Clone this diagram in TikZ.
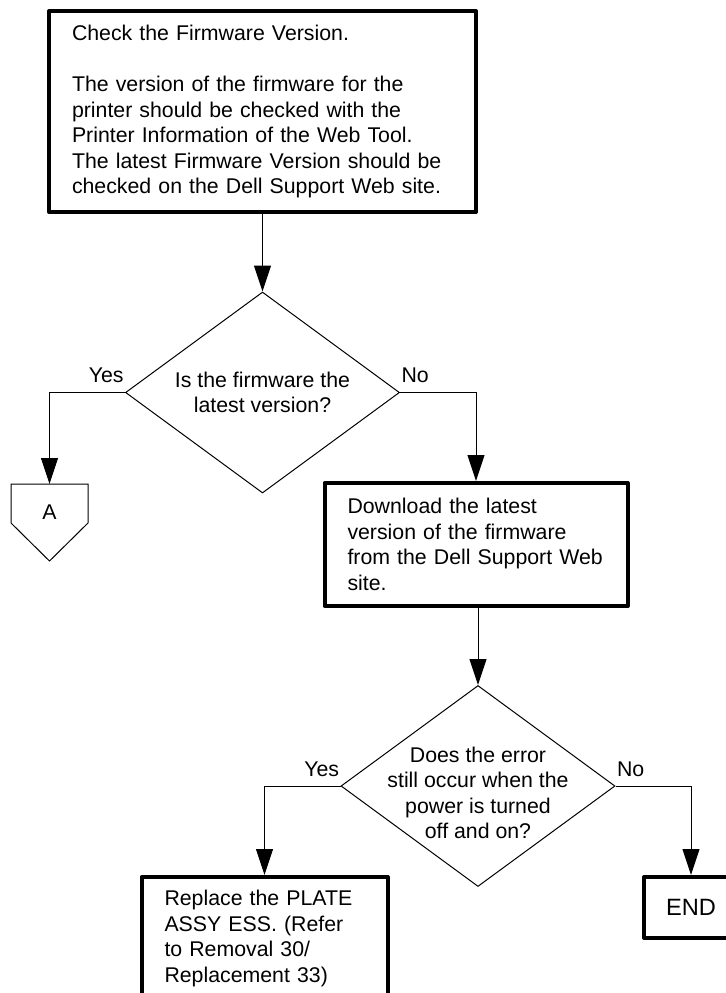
\documentclass[tikz,border=0pt]{standalone}
\usepackage{fontspec}
\setmainfont{Liberation Sans}
\usepackage{tikz}
\usetikzlibrary{arrows.meta, positioning, shapes.geometric, calc}

\begin{document}
\begin{tikzpicture}[x=0.5pt, y=-0.5pt,
  font=\fontsize{10.65pt}{12.75pt}\selectfont,
  procbox/.style={draw, line width=2pt, line join=round, align=left,
    inner xsep=11.5pt, inner ysep=0pt},
  decision/.style={draw, diamond, line width=0.5pt, align=center, aspect=1.363,
    inner sep=-10pt, minimum width=137pt, minimum height=100.5pt},
  flow/.style={line width=0.5pt, -{Triangle[length=13pt, width=8.5pt]}},
  answer/.style={inner xsep=0.5pt, inner ysep=4.5pt}]
  \useasboundingbox (0,0) rectangle (726,993);

  \node[procbox, text width=190.5pt, minimum height=100.5pt] (check) at (262.5,111.5)
    {Check the Firmware Version.\\[12.75pt]The version of the firmware for the\\printer should be checked with the\\Printer Information of the Web Tool.\\The latest Firmware Version should be\\checked on the Dell Support Web site.};
  \node[decision] (dec1) at (262.5,392.5) {Is the firmware the\\latest version?};
  \node[procbox, text width=128.5pt, minimum height=61.5pt] (dl) at (476,544.5)
    {Download the latest\\version of the firmware\\from the Dell Support Web\\site.};
  \node[decision] (dec2) at (478,786) {\rule{0pt}{14.7pt}Does the error\\still occur when the\\power is turned\\off and on?};
  \node[procbox, text width=100pt, minimum height=61.5pt] (rep) at (264.5,938.5)
    {Replace the PLATE\\ASSY ESS. (Refer\\to Removal 30/\\Replacement 33)};
  \node[procbox, inner xsep=3pt, minimum width=47pt, minimum height=30.5pt,
    font=\fontsize{11.8pt}{14pt}\selectfont] (fin) at (691,907.5) {END};

  % off-page connector
  \node[anchor=north, minimum width=38.5pt, minimum height=28.5pt, inner sep=0pt, outer sep=0pt] (offA) at (49.5,484) {A};
  \draw[line width=0.5pt] (offA.north west) -- (offA.north east) -- ++(0,39)
    -- ($(offA.north)+(0,77)$) -- ($(offA.north west)+(0,39)$) -- cycle;

  \draw[flow] (check.south) -- (dec1.north);
  \draw[flow] (dl.south -| dec2.north) -- (dec2.north);
  % Yes / No branches
  \foreach \d/\y/\n in {dec1/offA/dl, dec2/rep/fin} {
    \draw[flow] (\d.west) node[answer, anchor=south east] (\d-yes) {Yes} -| (\y.north);
    \draw[flow] (\d.east) node[answer, anchor=south west] (\d-no) {No} -| (\n.north);
  }
\end{tikzpicture}
\end{document}
